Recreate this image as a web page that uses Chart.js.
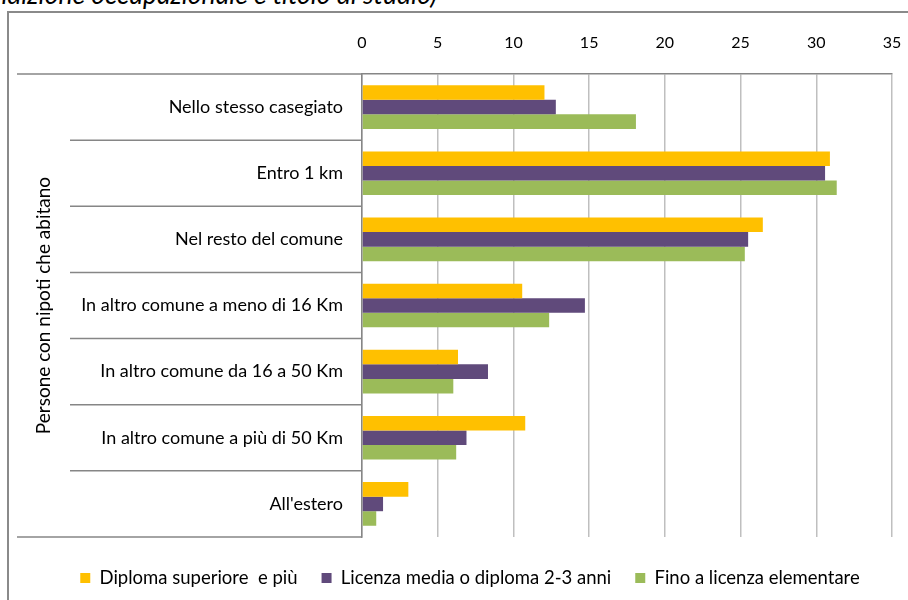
<!DOCTYPE html>
<html>
<head>
<meta charset="utf-8">
<script src="https://cdn.jsdelivr.net/npm/chart.js@4"></script>
<style>
  html, body { margin: 0; padding: 0; background: #fff; overflow: hidden; }
  #wrap { position: relative; width: 908px; height: 600px; overflow: hidden; }
  #frame { position: absolute; left: 7px; top: 11px; width: 920px; height: 620px; border-left: 2px solid #8a8a8a; border-top: 2px solid #8a8a8a; }
  #title { position: absolute; right: 471px; top: -19px; font: italic 26.5px Lato, sans-serif; line-height: 26.5px; color: #000; white-space: nowrap; }
  #chart-box { position: absolute; left: 0; top: 0; width: 908px; height: 600px; }
</style>
</head>
<body>
<div id="wrap">
  <div id="frame"></div>
  <div id="title">condizione occupazionale e titolo di studio)</div>
  <div id="chart-box"><canvas id="barChart"></canvas></div>
</div>
<script>
const categories = [
  "Nello stesso casegiato",
  "Entro 1 km",
  "Nel resto del comune",
  "In altro comune a meno di 16 Km",
  "In altro comune da 16 a 50 Km",
  "In altro comune a più di 50 Km",
  "All'estero"
];
const seriesNames = [
  "Diploma superiore  e più",
  "Licenza media o diploma 2-3 anni",
  "Fino a licenza elementare"
];
const diplomaSuperiore = [12.05, 30.9, 26.47, 10.58, 6.34, 10.78, 3.06];
const licenzaMedia = [12.8, 30.58, 25.5, 14.72, 8.32, 6.9, 1.39];
const licenzaElementare = [18.09, 31.35, 25.28, 12.36, 6.03, 6.22, 0.94];
const axisMin = 0;
const axisMax = 35;
const axisStep = 5;
const axisTitle = "Persone con nipoti che abitano";

const lineColor = "#868686";

// lines between the categories, running out to the left like in Excel
const separatorPlugin = {
  id: "separators",
  afterDraw(chart) {
    const ctx = chart.ctx;
    const area = chart.chartArea;
    const y = chart.scales.y;
    ctx.save();
    ctx.strokeStyle = lineColor;
    ctx.lineWidth = 1.5;
    for (let i = 0; i <= categories.length; i++) {
      let py;
      let x0 = 70;
      if (i === 0) {
        py = area.top;
        x0 = 17;
      } else if (i === categories.length) {
        py = area.bottom;
        x0 = 17;
      } else {
        py = (y.getPixelForValue(i - 1) + y.getPixelForValue(i)) / 2;
      }
      ctx.beginPath();
      ctx.moveTo(x0, py);
      ctx.lineTo(area.left, py);
      ctx.stroke();
    }
    ctx.restore();
  }
};

function createChart() {
  const ctx = document.getElementById("barChart").getContext("2d");

  new Chart(ctx, {
    type: "bar",
    data: {
      labels: categories,
      datasets: [
        {
          label: seriesNames[0],
          data: diplomaSuperiore,
          backgroundColor: "#ffc000"
        },
        {
          label: seriesNames[1],
          data: licenzaMedia,
          backgroundColor: "#604a7b"
        },
        {
          label: seriesNames[2],
          data: licenzaElementare,
          backgroundColor: "#9bbb59"
        }
      ]
    },
    options: {
      indexAxis: "y",
      responsive: true,
      maintainAspectRatio: false,
      animation: false,
      categoryPercentage: 0.66,
      barPercentage: 1,
      layout: {
        padding: { left: 48, right: 16, top: 0, bottom: 2.8 }
      },
      scales: {
        x: {
          position: "top",
          min: axisMin,
          max: axisMax,
          ticks: {
            stepSize: axisStep,
            color: "#000",
            padding: 22,
            font: { family: "Lato", size: 16 }
          },
          grid: {
            color: "#bfbfbf",
            lineWidth: 1.5,
            drawTicks: false
          },
          border: { color: lineColor, width: 1.5 },
          afterFit: function (scale) {
            scale.height = 74;
            scale.paddingLeft = 0;
            scale.paddingRight = 0;
          }
        },
        y: {
          ticks: {
            color: "#000",
            padding: 11,
            font: { family: "Lato", size: 18 }
          },
          grid: { display: false },
          border: { display: true, color: lineColor, width: 1.5 },
          title: {
            display: true,
            text: axisTitle,
            color: "#000",
            font: { family: "Lato", size: 19 },
            padding: { top: -16, bottom: 0 }
          },
          afterFit: function (scale) {
            scale.width = 362 - 48;
          }
        }
      },
      plugins: {
        legend: {
          position: "bottom",
          title: {
            display: true,
            text: "",
            font: { size: 1 },
            padding: { top: 0, bottom: 6.5 }
          },
          labels: {
            boxWidth: 10,
            boxHeight: 10,
            padding: 24,
            color: "#000",
            font: { family: "Lato", size: 18.5 }
          }
        },
        tooltip: { enabled: false }
      }
    },
    plugins: [separatorPlugin]
  });
}

createChart();
</script>
</body>
</html>
